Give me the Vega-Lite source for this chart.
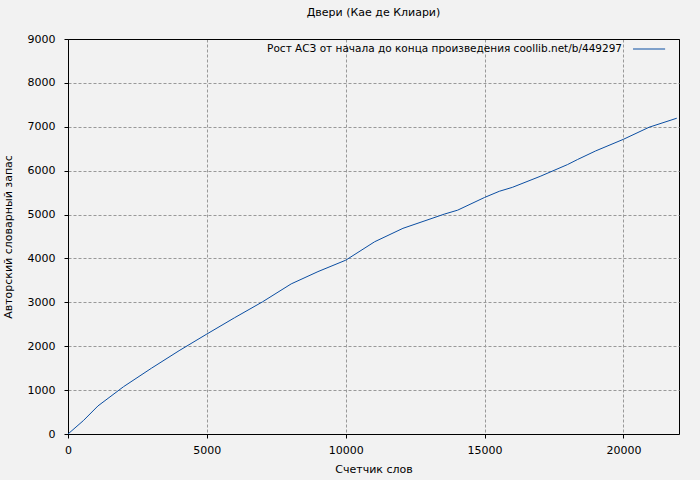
{
  "$schema": "https://vega.github.io/schema/vega-lite/v6.json",
  "width": 611,
  "height": 395,
  "autosize": {"type": "none"},
  "padding": {"left": 68, "top": 39, "right": 21, "bottom": 46},
  "background": "#f2f2f2",
  "config": {
    "font": "DejaVu Sans",
    "view": {"stroke": "black", "strokeWidth": 1},
    "axis": {
      "domainColor": "black",
      "tickColor": "black",
      "labelColor": "black",
      "titleColor": "black",
      "labelFontSize": 11,
      "titleFontSize": 11,
      "titleFontWeight": "normal",
      "gridColor": {"condition": {"test": "datum.value === 9000", "value": "black"}, "value": "#999999"},
      "gridDash": {"condition": {"test": "datum.value === 9000", "value": []}, "value": [3, 2]},
      "gridOpacity": 1,
      "tickSize": 4,
      "labelFlush": false
    }
  },
  "title": {
    "text": "Двери (Кае де Клиари)",
    "fontSize": 11,
    "fontWeight": "normal",
    "color": "black",
    "offset": 15
  },
  "layer": [
    {
      "data": {
        "values": [
          {"words": 0, "vocab": 0},
          {"words": 550, "vocab": 303},
          {"words": 1080, "vocab": 640},
          {"words": 2000, "vocab": 1078},
          {"words": 3000, "vocab": 1497},
          {"words": 4000, "vocab": 1898},
          {"words": 5000, "vocab": 2278},
          {"words": 6000, "vocab": 2650},
          {"words": 7000, "vocab": 3010},
          {"words": 8036, "vocab": 3420},
          {"words": 9000, "vocab": 3700},
          {"words": 10000, "vocab": 3960},
          {"words": 11040, "vocab": 4380},
          {"words": 12060, "vocab": 4686},
          {"words": 13000, "vocab": 4890},
          {"words": 13550, "vocab": 5010},
          {"words": 14030, "vocab": 5100},
          {"words": 15000, "vocab": 5390},
          {"words": 15530, "vocab": 5530},
          {"words": 16000, "vocab": 5620},
          {"words": 17000, "vocab": 5870},
          {"words": 17990, "vocab": 6140},
          {"words": 18350, "vocab": 6255},
          {"words": 19000, "vocab": 6450},
          {"words": 20000, "vocab": 6715},
          {"words": 20925, "vocab": 6990},
          {"words": 21920, "vocab": 7195}
        ]
      },
      "mark": {"type": "line", "color": "#0b4ea2", "strokeWidth": 1, "clip": true},
      "encoding": {
        "x": {
          "field": "words",
          "type": "quantitative",
          "scale": {"domain": [0, 22000], "nice": false},
          "axis": {
            "values": [0, 5000, 10000, 15000, 20000],
            "format": "d",
            "title": "Счетчик слов",
            "labelPadding": 6,
            "titlePadding": 8
          }
        },
        "y": {
          "field": "vocab",
          "type": "quantitative",
          "scale": {"domain": [0, 9000], "nice": false},
          "axis": {
            "values": [0, 1000, 2000, 3000, 4000, 5000, 6000, 7000, 8000, 9000],
            "format": "d",
            "title": "Авторский словарный запас",
            "labelPadding": 9,
            "titlePadding": 14
          }
        }
      }
    },
    {
      "data": {"values": [{"label": "Рост АСЗ от начала до конца произведения  coollib.net/b/449297", "x": 19950, "y": 8772}]},
      "mark": {"type": "text", "align": "right", "baseline": "middle", "fontSize": 10.5, "color": "black"},
      "encoding": {
        "x": {"field": "x", "type": "quantitative"},
        "y": {"field": "y", "type": "quantitative"},
        "text": {"field": "label"}
      }
    },
    {
      "data": {"values": [{"x2": 20345, "x3": 21500, "y": 8772}]},
      "mark": {"type": "rule", "color": "#0b4ea2", "strokeWidth": 1},
      "encoding": {
        "x": {"field": "x2", "type": "quantitative"},
        "x2": {"field": "x3"},
        "y": {"field": "y", "type": "quantitative"}
      }
    }
  ]
}
